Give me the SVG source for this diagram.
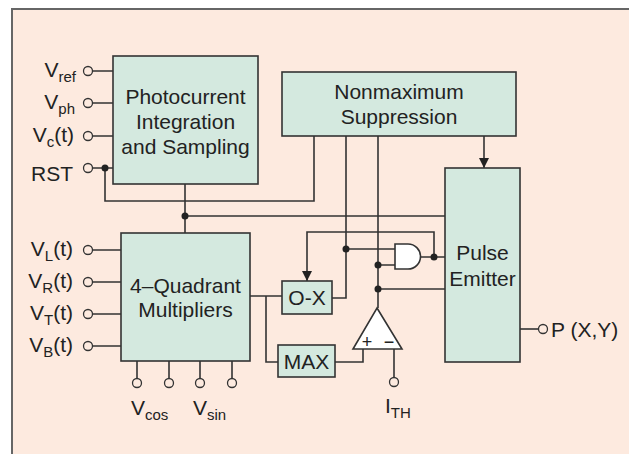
<svg xmlns="http://www.w3.org/2000/svg" width="629" height="454" viewBox="0 0 629 454">
<style>
text{font-family:"Liberation Sans",Arial,sans-serif;font-size:21px;fill:#222}
.c{text-anchor:middle}
.e{text-anchor:end}
.s{font-size:15px}
.box{fill:#d4e9df;stroke:#333;stroke-width:1.6}
.w{fill:none;stroke:#333;stroke-width:1.6}
.pin{fill:#fdeadf;stroke:#333;stroke-width:1.3}
.dot{fill:#222}
</style>
<defs>
<marker id="ah" viewBox="0 0 10 10" refX="10" refY="5" markerWidth="10" markerHeight="10" markerUnits="userSpaceOnUse" orient="auto">
<path d="M0,0 L10,5 L0,10 Z" fill="#222"/>
</marker>
</defs>
<rect x="0" y="0" width="629" height="454" fill="#fff"/>
<rect x="12" y="9" width="640" height="460" fill="#fdeadf" stroke="#666" stroke-width="2"/>

<g id="connectors">
<path class="w" d="M93,71 H113 M93,103 H113 M93,136 H113 M93,168 H113"/>
<path class="w" d="M105,168 V201 H314 V136"/>
<path class="w" d="M185,184 V233 M185,216 H445"/>
<path class="w" d="M93,250 H121 M93,282 H121 M93,314 H121 M93,346 H121"/>
<path class="w" d="M137,361 V378 M169,361 V378 M200,361 V378 M232,361 V378"/>
<path class="w" d="M250,296 H282 M266,296 V362 H278"/>
<path class="w" d="M346,136 V298 H332"/>
<path class="w" d="M378,136 V308"/>
<path class="w" d="M484,136 V168" marker-end="url(#ah)"/>
<path class="w" d="M346,249 H395 M378,265 H395"/>
<path class="w" d="M421,257 H445 M434,257 V232 H307 V281" marker-end="url(#ah)"/>
<path class="w" d="M378,289 H445"/>
<path class="w" d="M335,362 H363 V349"/>
<path class="w" d="M394,349 V377"/>
<path class="w" d="M520,329 H538"/>
<circle class="dot" cx="105" cy="168" r="3.5"/>
<circle class="dot" cx="185" cy="216" r="3.5"/>
<circle class="dot" cx="346" cy="249" r="3.5"/>
<circle class="dot" cx="378" cy="265" r="3.5"/>
<circle class="dot" cx="378" cy="289" r="3.5"/>
<circle class="dot" cx="434" cy="257" r="3.5"/>
</g>

<g id="photocurrent">
<rect class="box" x="113" y="56" width="145" height="128"/>
<text class="c" x="185.5" y="104">Photocurrent</text>
<text class="c" x="185.5" y="129">Integration</text>
<text class="c" x="185.5" y="154">and Sampling</text>
</g>

<g id="nonmax">
<rect class="box" x="282" y="72" width="234" height="64"/>
<text class="c" x="399" y="99">Nonmaximum</text>
<text class="c" x="399" y="124">Suppression</text>
</g>

<g id="pulse">
<rect class="box" x="445" y="168" width="75" height="194"/>
<text class="c" x="482.5" y="260">Pulse</text>
<text class="c" x="482.5" y="286">Emitter</text>
</g>

<g id="multipliers">
<rect class="box" x="121" y="233" width="129" height="128"/>
<text class="c" x="185.5" y="293">4–Quadrant</text>
<text class="c" x="185.5" y="317">Multipliers</text>
</g>

<g id="ox">
<rect class="box" x="282" y="281" width="50" height="33"/>
<text class="c" x="307" y="305">O-X</text>
</g>

<g id="max">
<rect class="box" x="278" y="345" width="57" height="32"/>
<text class="c" x="306.5" y="369">MAX</text>
</g>

<g id="and">
<path d="M395,244 H408 A12.5,12.5 0 0 1 408,269 H395 Z" fill="#fff" stroke="#333" stroke-width="1.6"/>
</g>

<g id="comparator">
<path d="M377,308 L402,349 L353,349 Z" fill="#fff" stroke="#333" stroke-width="1.6"/>
<text class="c" x="367" y="348" style="font-size:18px">+</text>
<text class="c" x="389" y="348" style="font-size:18px">−</text>
</g>

<g id="inputs">
<circle class="pin" cx="88" cy="71" r="4.5"/>
<circle class="pin" cx="88" cy="103" r="4.5"/>
<circle class="pin" cx="88" cy="136" r="4.5"/>
<circle class="pin" cx="88" cy="168" r="4.5"/>
<text class="e" x="76" y="77">V<tspan class="s" dy="5">ref</tspan></text>
<text class="e" x="75" y="109">V<tspan class="s" dy="5">ph</tspan></text>
<text class="e" x="74" y="142">V<tspan class="s" dy="5">c</tspan><tspan dy="-5">(t)</tspan></text>
<text class="e" x="73" y="181">RST</text>

<circle class="pin" cx="88" cy="250" r="4.5"/>
<circle class="pin" cx="88" cy="282" r="4.5"/>
<circle class="pin" cx="88" cy="314" r="4.5"/>
<circle class="pin" cx="88" cy="346" r="4.5"/>
<text class="e" x="73" y="256">V<tspan class="s" dy="5">L</tspan><tspan dy="-5">(t)</tspan></text>
<text class="e" x="73" y="288">V<tspan class="s" dy="5">R</tspan><tspan dy="-5">(t)</tspan></text>
<text class="e" x="73" y="320">V<tspan class="s" dy="5">T</tspan><tspan dy="-5">(t)</tspan></text>
<text class="e" x="73" y="352">V<tspan class="s" dy="5">B</tspan><tspan dy="-5">(t)</tspan></text>

<circle class="pin" cx="137" cy="383" r="4.5"/>
<circle class="pin" cx="169" cy="383" r="4.5"/>
<circle class="pin" cx="200" cy="383" r="4.5"/>
<circle class="pin" cx="232" cy="383" r="4.5"/>
<text x="131" y="415">V<tspan class="s" dy="5">cos</tspan></text>
<text x="193" y="415">V<tspan class="s" dy="5">sin</tspan></text>

<circle class="pin" cx="394" cy="382" r="4.5"/>
<text x="385" y="413">I<tspan class="s" dy="5">TH</tspan></text>

<circle class="pin" cx="543" cy="329" r="4.5"/>
<text x="551" y="337">P (X,Y)</text>
</g>
</svg>
